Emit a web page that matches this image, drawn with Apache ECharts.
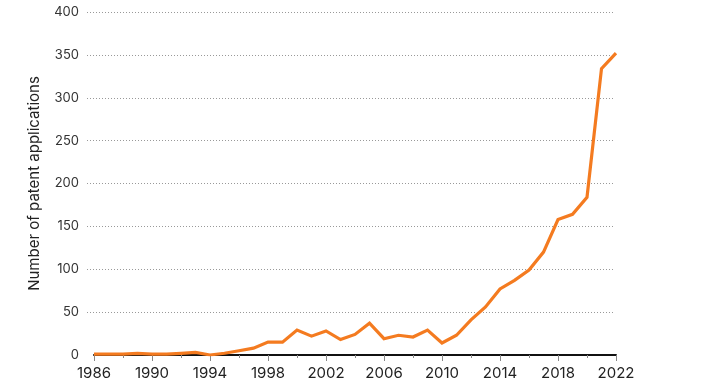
<!DOCTYPE html>
<html>
<head>
<meta charset="utf-8">
<script src="https://cdn.jsdelivr.net/npm/echarts@6/dist/echarts.min.js"></script>
<style>
html,body{margin:0;padding:0;background:#fff;}
#chart{width:724px;height:387px;}
</style>
</head>
<body>
<div id="chart"></div>
<script>
const years = ['1986','1987','1988','1989','1990','1991','1992','1993','1994','1995','1996','1997','1998','1999','2000','2001','2002','2003','2004','2005','2006','2007','2008','2009','2010','2011','2012','2013','2014','2015','2016','2017','2018','2019','2020','2021','2022'];
const applications = [1,1,1,2,1,1,2,3,0,2,5,8,15,15,29,22,28,18,24,37,19,23,21,29,14,23,41,56,77,87,99,120,158,164,184,334,352];
const yTicks = {min: 0, max: 400, interval: 50};
const yAxisName = 'Number of patent applications';

const FONT = 'Inter, "Noto Sans", sans-serif';
const chart = echarts.init(document.getElementById('chart'), null, {renderer: 'canvas'});
chart.setOption({
  animation: false,
  backgroundColor: '#ffffff',
  grid: [
    {left: 87, right: 111, top: 12, bottom: 32},
    {left: 94, right: 108, top: 12, bottom: 32}
  ],
  xAxis: [
    {gridIndex: 0, type: 'value', show: false, min: 0, max: 1},
    {gridIndex: 1, type: 'category', data: years, boundaryGap: false, position: 'bottom',
      axisLine: {show: true, lineStyle: {color: '#111', width: 2}},
      axisTick: {show: true, interval: 1, length: 3, lineStyle: {color: '#888', width: 1}},
      axisLabel: {interval: 3, color: '#222', fontFamily: FONT, fontSize: 15, margin: 11},
      splitLine: {show: false}},
    {gridIndex: 1, type: 'category', data: years, boundaryGap: false, position: 'bottom',
      axisLine: {show: false},
      axisTick: {show: true, interval: 3, length: 6, lineStyle: {color: '#888', width: 1}},
      axisLabel: {show: false},
      splitLine: {show: false}}
  ],
  yAxis: [
    {gridIndex: 0, type: 'value', min: yTicks.min, max: yTicks.max, interval: yTicks.interval,
      name: yAxisName, nameLocation: 'middle', nameGap: 45, nameRotate: 90,
      nameTextStyle: {color: '#222', fontFamily: FONT, fontSize: 15},
      axisLine: {show: false}, axisTick: {show: false},
      axisLabel: {color: '#333', fontFamily: FONT, fontSize: 13, margin: 8},
      splitLine: {show: true, showMinLine: false, lineStyle: {color: '#999', width: 1, type: [1, 2]}}},
    {gridIndex: 1, type: 'value', min: yTicks.min, max: yTicks.max, interval: yTicks.interval,
      show: false, splitLine: {show: false}}
  ],
  series: [{
    type: 'line', xAxisIndex: 1, yAxisIndex: 1,
    data: applications, showSymbol: false, symbol: 'none',
    lineStyle: {color: '#F47B20', width: 3.2, join: 'miter'},
    z: 5
  }]
});
</script>
</body>
</html>
